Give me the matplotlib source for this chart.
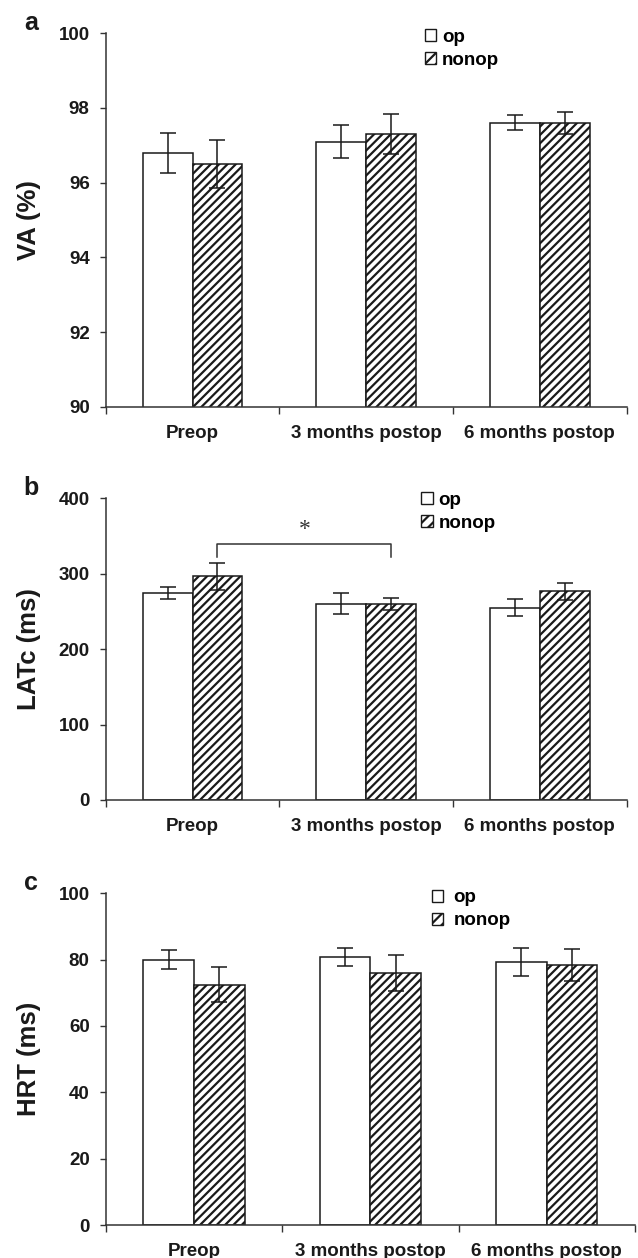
import matplotlib
matplotlib.use("Agg")
import matplotlib.pyplot as plt
from matplotlib.patches import Patch

plt.rcParams['font.family'] = ['Liberation Sans', 'DejaVu Sans']
plt.rcParams['font.weight'] = 'bold'
plt.rcParams['hatch.linewidth'] = 1.6
plt.rcParams['hatch.color'] = '#111111'

groups = ["Preop", "3 months postop", "6 months postop"]

# panel a - VA (%)
va_op = [96.8, 97.1, 97.6]
va_op_err = [0.53, 0.45, 0.2]
va_nonop = [96.5, 97.3, 97.6]
va_nonop_err = [0.65, 0.54, 0.3]

# panel b - LATc (ms)
lat_op = [274.5, 260.3, 255.0]
lat_op_err = [8.4, 14.0, 11.0]
lat_nonop = [296.6, 260.3, 276.7]
lat_nonop_err = [18.0, 8.0, 11.0]

# panel c - HRT (ms)
hrt_op = [80.0, 80.8, 79.3]
hrt_op_err = [2.9, 2.6, 4.2]
hrt_nonop = [72.5, 75.9, 78.3]
hrt_nonop_err = [5.4, 5.4, 4.8]

W = 638
H = 1258
fig = plt.figure(figsize=(W / 100, H / 100), dpi=100)

# axes boxes in pixels: left, top, right, bottom
boxes = [(105.7, 33.3, 626.7, 406.7),
         (105.7, 498.3, 626.7, 800.0),
         (105.7, 893.3, 635.0, 1225.0)]

panels = [
    ("a", "VA (%)", va_op, va_op_err, va_nonop, va_nonop_err, (90, 100), range(90, 101, 2), (0.613, 1.012), 0.3),
    ("b", "LATc (ms)", lat_op, lat_op_err, lat_nonop, lat_nonop_err, (0, 400), range(0, 401, 100), (0.606, 1.022), 0.3),
    ("c", "HRT (ms)", hrt_op, hrt_op_err, hrt_nonop, hrt_nonop_err, (0, 100), range(0, 101, 20), (0.616, 1.012), 0.55),
]

bw = 0.287
ink = '#1a1a1a'
for (letter, ylab, op, op_e, nonop, nonop_e, ylim, yt, leg_pos, tpad), box in zip(panels, boxes):
    l, t, r, b = box
    ax = fig.add_axes([l / W, 1 - b / H, (r - l) / W, (b - t) / H])
    x = list(range(len(groups)))
    x_op = [i - bw / 2 for i in x]
    x_no = [i + bw / 2 for i in x]
    ax.bar(x_op, op, bw, color='white', edgecolor=ink, linewidth=1.1,
           yerr=op_e, capsize=6, error_kw=dict(ecolor=ink, elinewidth=1.1, capthick=1.1), zorder=2)
    ax.bar(x_no, nonop, bw, color='white', edgecolor=ink, linewidth=1.1, hatch='////',
           yerr=nonop_e, capsize=6, error_kw=dict(ecolor=ink, elinewidth=1.1, capthick=1.1), zorder=2)
    # bars start at the bottom of the axis
    ax.set_ylim(*ylim)
    ax.set_xlim(-0.5, len(groups) - 0.5)
    ax.set_yticks(list(yt))
    ax.set_xticks(x)
    ax.set_xticklabels(groups, fontsize=13.5, fontweight='bold', color=ink)
    ax.set_xticks([i - 0.5 for i in range(len(groups) + 1)], minor=True)
    ax.tick_params(axis='x', which='major', length=0, pad=13)
    ax.tick_params(axis='x', which='minor', length=5, width=1, color='#333333')
    ax.tick_params(axis='y', length=4.5, width=1, color='#333333', pad=7, labelsize=13.5, labelcolor=ink)
    for lab in ax.get_yticklabels():
        lab.set_fontweight('bold')
    for s in ['top', 'right']:
        ax.spines[s].set_visible(False)
    for s in ['left', 'bottom']:
        ax.spines[s].set_color('#333333')
        ax.spines[s].set_linewidth(1.1)
    ax.set_ylabel(ylab, fontsize=18.5, fontweight='bold', color=ink)
    ax.yaxis.set_label_coords(-65.0 / (r - l), 0.5)

    handles = [Patch(facecolor='white', edgecolor=ink, linewidth=1),
               Patch(facecolor='white', edgecolor=ink, linewidth=1, hatch='///')]
    ax.legend(handles, ["op", "nonop"], loc='upper left', bbox_to_anchor=leg_pos,
              frameon=False, borderpad=0, borderaxespad=0, handlelength=0.6, handleheight=0.6,
              handletextpad=tpad, labelspacing=0.32, prop=dict(size=13.5, weight='bold'))

    fig.text(31 / W, 1 - (t - 10) / H, letter, fontsize=18, fontweight='bold', color=ink,
             ha='center', va='center')

    if letter == "b":
        # significance bracket between preop and 3 months (nonop)
        ax.plot([x_no[0], x_no[0], x_no[1], x_no[1]], [322.6, 340, 340, 322.6],
                color='#333333', linewidth=1.1)
        ax.text((x_no[0] + x_no[1]) / 2, 358, "*", ha='center', va='center',
                fontsize=17, fontweight='normal', family='Liberation Serif', color='#333333')

fig.savefig("out.png", dpi=100)
